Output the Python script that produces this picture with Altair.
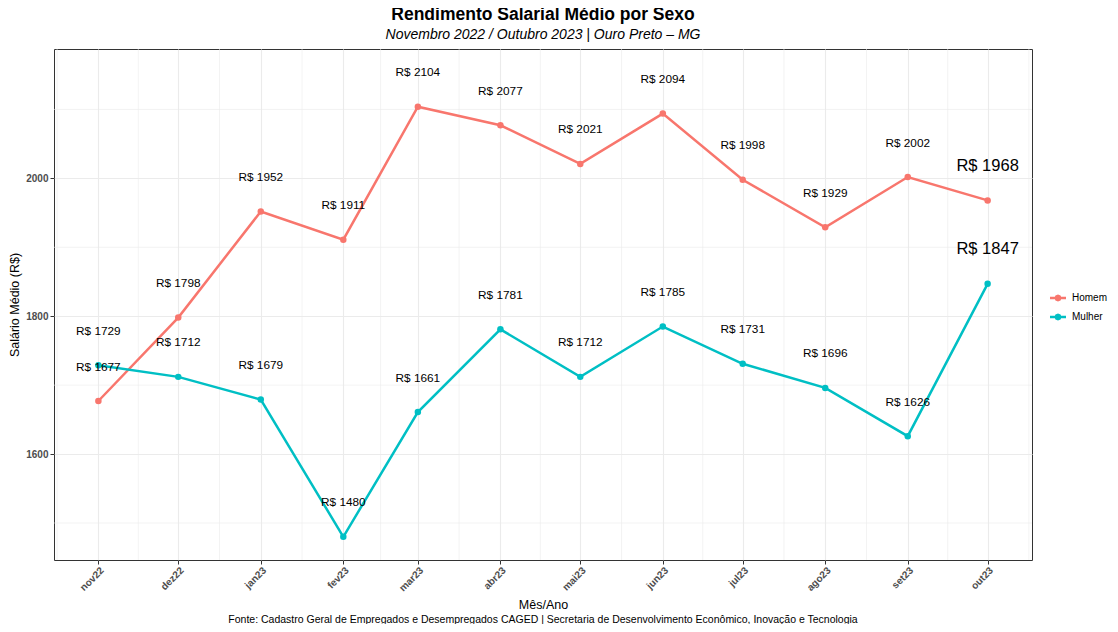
import altair as alt
import pandas as pd

# ---------------- data ----------------
meses = ["2022-11-01", "2022-12-01", "2023-01-01", "2023-02-01", "2023-03-01", "2023-04-01",
         "2023-05-01", "2023-06-01", "2023-07-01", "2023-08-01", "2023-09-01", "2023-10-01"]
homem = [1677, 1798, 1952, 1911, 2104, 2077, 2021, 2094, 1998, 1929, 2002, 1968]
mulher = [1729, 1712, 1679, 1480, 1661, 1781, 1712, 1785, 1731, 1696, 1626, 1847]
sexos = ["Homem", "Mulher"]
cores = ["#F8766D", "#00BFC4"]
mes_abrev = ["jan", "fev", "mar", "abr", "mai", "jun", "jul", "ago", "set", "out", "nov", "dez"]
y_major = [1600, 1800, 2000]
y_minor = [1500, 1700, 1900, 2100]
x_minor = ["2022-10-16T12:00:00Z", "2022-11-16T00:00:00Z", "2022-12-16T12:00:00Z",
           "2023-01-16T12:00:00Z", "2023-02-15T00:00:00Z", "2023-03-16T12:00:00Z",
           "2023-04-16T00:00:00Z", "2023-05-16T12:00:00Z", "2023-06-16T00:00:00Z",
           "2023-07-16T12:00:00Z", "2023-08-16T12:00:00Z", "2023-09-16T00:00:00Z",
           "2023-10-16T12:00:00Z"]

titulo = "Rendimento Salarial Médio por Sexo"
subtitulo = "Novembro 2022 / Outubro 2023 | Ouro Preto \u2013 MG"
fonte = ("Fonte: Cadastro Geral de Empregados e Desempregados CAGED | Secretaria de "
         "Desenvolvimento Econômico, Inovação e Tecnologia")

rows = []
for s, vals in zip(sexos, [homem, mulher]):
    for m, v in zip(meses, vals):
        rows.append({"data": m, "sexo": s, "valor": v, "ultimo": m == meses[-1]})
df = pd.DataFrame(rows)

FONT = "Liberation Sans"

x_domain = [alt.DateTime(year=2022, month=10, date=15, hours=8, utc=True),
            alt.DateTime(year=2023, month=10, date=17, hours=16, utc=True)]
x_major = [alt.DateTime(year=int(m[:4]), month=int(m[5:7]), date=1, utc=True) for m in meses]

label_expr = ("[" + ",".join("'%s'" % a for a in mes_abrev) + "][utcmonth(datum.value)]"
              " + utcFormat(datum.value, '%y')")

x_scale = alt.Scale(type="utc", domain=x_domain)
y_scale = alt.Scale(domain=[1446.3, 2187.7], nice=False, zero=False)
color_scale = alt.Scale(domain=sexos, range=cores)
stroke_scale = alt.Scale(range=cores)  # same mapping (data order), kept separate from legend

base = alt.Chart(df)

x_main_axis = alt.Axis(values=x_major, labelExpr=label_expr, labelAngle=-45, labelAlign="right",
                       labelBaseline="top", labelFontWeight="bold", labelFontSize=10,
                       labelColor="#4D4D4D", tickColor="#333333", tickSize=4, labelPadding=1,
                       grid=True, gridColor="#EBEBEB", gridWidth=1.1, domain=False,
                       title="Mês/Ano", titleFontSize=12.5, titleFontWeight="normal",
                       titleColor="black", titlePadding=6)
y_main_axis = alt.Axis(values=y_major, format="d", labelFontWeight="bold", labelFontSize=10,
                       labelColor="#4D4D4D", tickColor="#333333", tickSize=4, labelPadding=2,
                       grid=True, gridColor="#EBEBEB", gridWidth=1.1, domain=False,
                       title="Salário Médio (R$)", titleFontSize=12.5, titleFontWeight="normal",
                       titleColor="black", titlePadding=4)

# legend symbol: short line with a dot (polygon only)
legend_symbol = ("M-1,-0.16L1,-0.16L1,0.16L-1,0.16Z"
                 "M0.45,0L0.32,0.32L0,0.45L-0.32,0.32L-0.45,0L-0.32,-0.32L0,-0.45L0.32,-0.32Z")

grade_y = alt.Chart(pd.DataFrame({"v": y_minor})).mark_rule(
    color="#EBEBEB", strokeWidth=0.6
).encode(y=alt.Y("v:Q", scale=y_scale))

grade_x = alt.Chart(pd.DataFrame({"d": x_minor})).mark_rule(
    color="#EBEBEB", strokeWidth=0.6
).encode(x=alt.X("d:T", scale=x_scale))

linhas = base.mark_line(strokeWidth=2.5).encode(
    x=alt.X("data:T", scale=x_scale, axis=x_main_axis),
    y=alt.Y("valor:Q", scale=y_scale, axis=y_main_axis),
    stroke=alt.Stroke("sexo:N", scale=stroke_scale, legend=None),
)

pontos = base.mark_point(filled=True, size=42, opacity=1).encode(
    x=alt.X("data:T", scale=x_scale),
    y=alt.Y("valor:Q", scale=y_scale),
    color=alt.Color("sexo:N", scale=color_scale,
                    legend=alt.Legend(title=None, orient="none", legendX=996, legendY=241,
                                      symbolType=legend_symbol, symbolSize=256,
                                      symbolStrokeWidth=0, symbolOpacity=1,
                                      labelFontSize=10, labelColor="black", labelFont=FONT,
                                      rowPadding=6, labelOffset=6)),
)

rotulos = base.transform_calculate(
    rotulo="'R$ ' + datum.valor",
    ypos="datum.valor + 50",
).mark_text(baseline="middle", align="center", color="black", font=FONT).encode(
    x=alt.X("data:T", scale=x_scale),
    y=alt.Y("ypos:Q", scale=y_scale),
    text="rotulo:N",
    size=alt.condition("datum.ultimo", alt.value(16.5), alt.value(11.8)),
)

rodape = alt.Chart(pd.DataFrame({"t": [fonte]})).mark_text(
    fontSize=10.5, font=FONT, color="black", align="center", baseline="middle"
).encode(text="t:N", x=alt.value(489), y=alt.value(571))

chart = alt.layer(grade_y, grade_x, linhas, pontos, rotulos, rodape).properties(
    width=978,
    height=511,
    title=alt.TitleParams(text=titulo, subtitle=subtitulo, anchor="middle", frame="group",
                          fontSize=17.5, fontWeight="bold", font=FONT, color="black",
                          subtitleFontSize=14, subtitleFontStyle="italic",
                          subtitleFont=FONT, subtitleColor="black", subtitlePadding=4,
                          offset=7),
    autosize=alt.AutoSizeParams(type="none"),
    padding={"left": 46, "top": 41, "right": 78, "bottom": 64},
).configure(font=FONT).configure_view(stroke="#333333", strokeWidth=1)

chart.save("out.html", embed_options={"renderer": "svg", "actions": False})
